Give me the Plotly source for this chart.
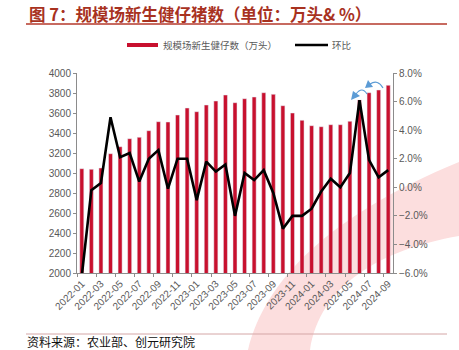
import plotly.graph_objects as go

# Monthly data, 2022-01 .. 2024-09
months = [
    "2022-01", "2022-02", "2022-03", "2022-04", "2022-05", "2022-06",
    "2022-07", "2022-08", "2022-09", "2022-10", "2022-11", "2022-12",
    "2023-01", "2023-02", "2023-03", "2023-04", "2023-05", "2023-06",
    "2023-07", "2023-08", "2023-09", "2023-10", "2023-11", "2023-12",
    "2024-01", "2024-02", "2024-03", "2024-04", "2024-05", "2024-06",
    "2024-07", "2024-08", "2024-09",
]
# healthy piglets born at scale farms (10k head)
piglets = [
    3043, 3037, 3050, 3193, 3263, 3343, 3357, 3423, 3513, 3510, 3580, 3650,
    3613, 3680, 3720, 3780, 3703, 3743, 3760, 3803, 3787, 3673, 3600, 3527,
    3473, 3463, 3483, 3483, 3517, 3731, 3803, 3830, 3877,
]
# month-on-month change (%)
mom = [
    -6.2, -0.2, 0.3, 4.9, 2.1, 2.4, 0.4, 2.0, 2.6, -0.1, 2.0, 2.0,
    -0.9, 1.8, 1.1, 1.6, -2.0, 1.0, 0.5, 1.2, -0.4, -2.9, -2.0, -2.0,
    -1.5, -0.3, 0.6, 0.0, 1.0, 6.1, 1.9, 0.7, 1.2,
]

W, H = 459, 350
ML, MR, MT, MB = 77, 66, 73, 77
PW, PH = W - ML - MR, H - MT - MB


def px(x):
    return (x - ML) / PW


def py(y):
    return (H - MB - y) / PH


RED = "#c8102e"
GREY_TXT = "#595959"
AXIS = "#8c8c8c"
FONT = "Liberation Sans, Noto Sans CJK SC, sans-serif"
CJK = "Noto Sans CJK SC, sans-serif"

idx = list(range(len(months)))

fig = go.Figure()
fig.add_trace(go.Bar(x=idx, y=piglets, marker_color=RED, width=0.42,
                     name="规模场新生健仔数（万头）", showlegend=False))
fig.add_trace(go.Scatter(x=idx, y=mom, yaxis="y2", mode="lines",
                         line=dict(color="black", width=2.6),
                         name="环比", showlegend=False))

shapes = []
ann = []

# faint logo watermark behind the plot
wm = (f"M {px(248)} {py(350)} C {px(265)} {py(280)} {px(330)} {py(215)} {px(459)} {py(162)} "
      f"L {px(459)} {py(236)} C {px(380)} {py(250)} {px(320)} {py(285)} {px(310)} {py(350)} Z")
shapes.append(dict(type="path", xref="paper", yref="paper", path=wm,
                   fillcolor="#fcdede", line=dict(width=0), layer="below"))

# title and rule
ann.append(dict(xref="paper", yref="paper", x=px(27), y=py(14), xanchor="left",
                yanchor="middle", showarrow=False,
                text="<b>图 7：规模场新生健仔猪数（单位：万头& %）</b>",
                font=dict(family=CJK, size=16.5, color="#a8321f")))
shapes.append(dict(type="line", xref="paper", yref="paper", x0=px(26), x1=px(447),
                   y0=py(24), y1=py(24), line=dict(color="#b5382b", width=1.5)))

# legend
shapes.append(dict(type="rect", xref="paper", yref="paper", x0=px(127), x1=px(158),
                   y0=py(47), y1=py(43), fillcolor=RED, line=dict(width=0)))
ann.append(dict(xref="paper", yref="paper", x=px(161), y=py(45), xanchor="left",
                yanchor="middle", showarrow=False, text="规模场新生健仔数（万头）",
                font=dict(family=CJK, size=9.5, color=GREY_TXT)))
shapes.append(dict(type="line", xref="paper", yref="paper", x0=px(295), x1=px(328),
                   y0=py(45), y1=py(45), line=dict(color="black", width=2.5)))
ann.append(dict(xref="paper", yref="paper", x=px(330), y=py(45), xanchor="left",
                yanchor="middle", showarrow=False, text="环比",
                font=dict(family=CJK, size=9.5, color=GREY_TXT)))

# curved blue arrows near the June 2024 jump
BLUE = "#5b9bd5"
shapes.append(dict(type="path", xref="paper", yref="paper",
                   path=f"M {px(367)} {py(94)} Q {px(362)} {py(86)} {px(356)} {py(94)}",
                   line=dict(color=BLUE, width=1.2)))
shapes.append(dict(type="path", xref="paper", yref="paper",
                   path=f"M {px(351)} {py(100)} L {px(353)} {py(91)} L {px(360)} {py(96)} Z",
                   fillcolor=BLUE, line=dict(width=0)))
shapes.append(dict(type="path", xref="paper", yref="paper",
                   path=f"M {px(383)} {py(88)} Q {px(378)} {py(79)} {px(370)} {py(84)}",
                   line=dict(color=BLUE, width=1.2)))
shapes.append(dict(type="path", xref="paper", yref="paper",
                   path=f"M {px(365)} {py(88)} L {px(368)} {py(80)} L {px(373)} {py(87)} Z",
                   fillcolor=BLUE, line=dict(width=0)))

# source footer
shapes.append(dict(type="line", xref="paper", yref="paper", x0=px(26), x1=px(447),
                   y0=py(334), y1=py(334), line=dict(color="#d4a6a6", width=1)))
ann.append(dict(xref="paper", yref="paper", x=px(26), y=py(341), xanchor="left",
                yanchor="middle", showarrow=False, text="资料来源：农业部、创元研究院",
                borderpad=0,
                font=dict(family=CJK, size=12, color="#111111")))

fig.update_layout(
    width=W, height=H,
    margin=dict(l=ML, r=MR, t=MT, b=MB, pad=0),
    paper_bgcolor="white", plot_bgcolor="rgba(0,0,0,0)",
    showlegend=False,
    bargap=0.5,
    shapes=shapes, annotations=ann,
    font=dict(family=FONT, color=GREY_TXT, size=10),
    xaxis=dict(
        range=[-0.5, len(months) - 0.5],
        tickmode="array", tickvals=idx[::2], ticktext=months[::2],
        tickangle=-45, ticks="", showgrid=False, zeroline=False,
        showline=True, linecolor=AXIS, linewidth=1,
        tickfont=dict(size=10, color=GREY_TXT),
        minor=dict(tick0=-0.5, dtick=2, ticks="outside", ticklen=3,
                   tickcolor=AXIS, showgrid=False),
    ),
    yaxis=dict(
        range=[2000, 4000], dtick=200, tickformat="d",
        ticks="outside", ticklen=3, tickcolor=AXIS,
        showline=True, linecolor=AXIS, linewidth=1,
        showgrid=False, zeroline=False,
        tickfont=dict(size=10, color=GREY_TXT),
    ),
    yaxis2=dict(
        overlaying="y", side="right", range=[-6, 8], dtick=2,
        tickformat=".1f", ticksuffix="%",
        ticks="outside", ticklen=3, tickcolor=AXIS,
        showline=True, linecolor=AXIS, linewidth=1,
        showgrid=False, zeroline=False,
        tickfont=dict(size=10, color=GREY_TXT),
    ),
)

fig.write_html("out.html")
